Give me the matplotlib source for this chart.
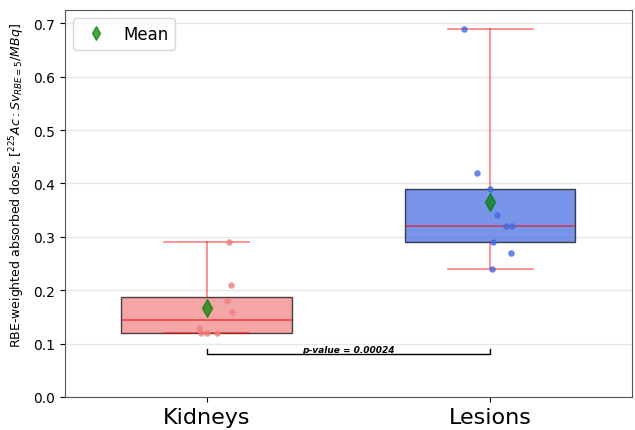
import numpy as np
import matplotlib
matplotlib.use('Agg')
import matplotlib.pyplot as plt
from matplotlib.lines import Line2D

#-------------------------------------------------------------------
# datos
#-------------------------------------------------------------------
groups = ['Kidneys', 'Lesions']
kidneys = [0.29, 0.21, 0.18, 0.16, 0.13, 0.12, 0.12, 0.12]
lesions = [0.69, 0.42, 0.39, 0.34, 0.32, 0.32, 0.29, 0.27, 0.24]
# desplazamiento horizontal de cada punto (jitter)
jit_kid = [0.079, 0.085, 0.071, 0.089, -0.027, -0.019, 0.002, 0.036]
jit_les = [-0.092, -0.047, 0.0, 0.024, 0.055, 0.077, 0.01, 0.074, 0.008]
pvalue = 0.00024

box_colors = ['lightcoral', 'royalblue']

fig = plt.figure(figsize=(6.35, 4.31), dpi=100)
ax = fig.add_axes([0.102, 0.0766, 0.893, 0.898])

data = [kidneys, lesions]
pos = np.arange(len(groups))
bp = ax.boxplot(data, positions=pos, widths=0.6, whis=(0, 100), patch_artist=True,
                showmeans=True, showfliers=False,
                meanprops=dict(marker='d', markerfacecolor='green', markeredgecolor='green',
                               markersize=9, alpha=0.7),
                medianprops=dict(color='red', linewidth=1.2, alpha=0.6),
                whiskerprops=dict(color='red', linewidth=1.2, alpha=0.5),
                capprops=dict(color='red', linewidth=1.2, alpha=0.5),
                zorder=2)
for patch, c in zip(bp['boxes'], box_colors):
    patch.set_facecolor(c)
    patch.set_edgecolor('black')
    patch.set_alpha(0.7)
    patch.set_linewidth(1.0)

for i, (vals, jit) in enumerate([(kidneys, jit_kid), (lesions, jit_les)]):
    ax.scatter(np.array(jit) + pos[i], vals, s=22, color=box_colors[i], alpha=0.8,
               zorder=3, linewidths=0)

# p-value
y, h = 0.08, 0.01
ax.plot([pos[0], pos[0], pos[1], pos[1]], [y + h, y, y, y + h], color='black', lw=1)
ax.text((pos[0] + pos[1]) / 2, y + 0.001, 'p-value = ' + str(pvalue), ha='center', va='bottom',
        fontsize=6.5, fontweight='bold', fontstyle='italic')

ax.set_xlim(-0.5, 1.5)
ax.set_ylim(0, 0.725)
ax.set_xticks(pos)
ax.set_xticklabels(groups, fontsize=16)
ax.tick_params(axis='y', labelsize=10)
ax.yaxis.grid(True, color='#e6e6e6', linewidth=1)
ax.set_axisbelow(True)
for sp in ax.spines.values():
    sp.set_color('#555555')
ax.set_ylabel(r'RBE-weighted absorbed dose, [$^{225}Ac:Sv_{RBE=5}/MBq$]', fontsize=9)
ax.yaxis.set_label_coords(-0.067, 0.55)

handle = Line2D([], [], marker='d', color='green', alpha=0.7, linestyle='none', markersize=7)
ax.legend([handle], ['Mean'], loc='upper left', fontsize=12, handletextpad=0.6)

plt.savefig('out.png')
